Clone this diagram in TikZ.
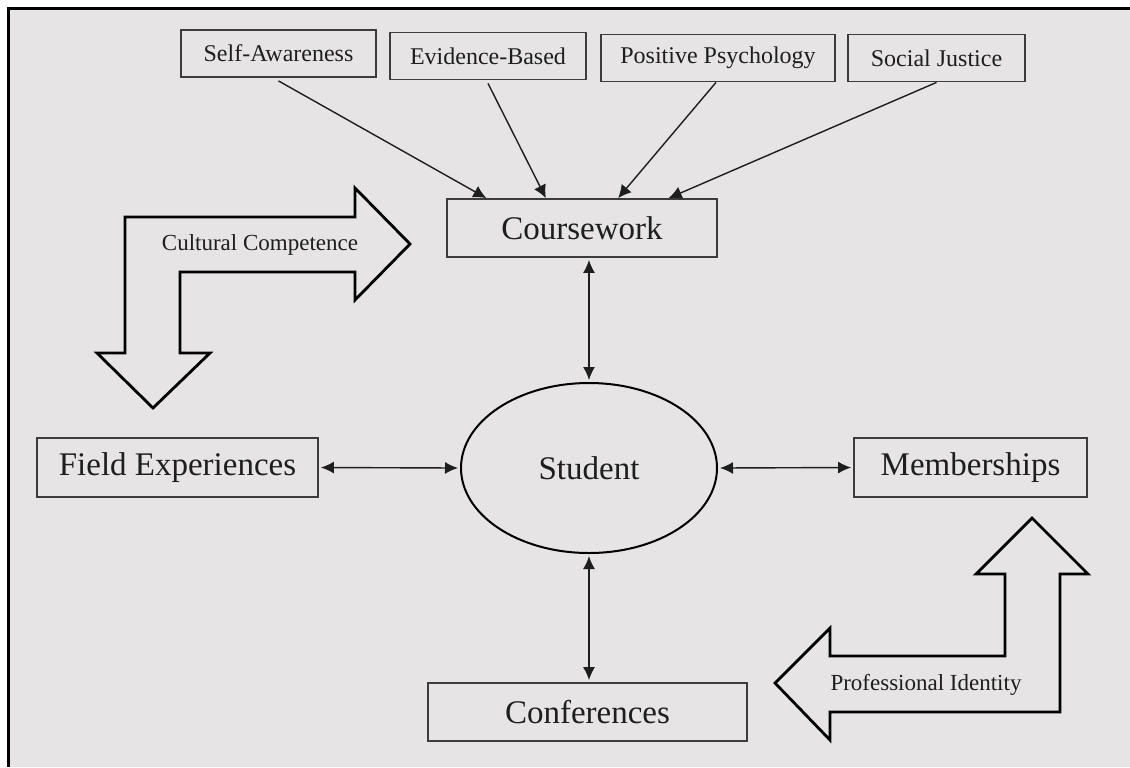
\documentclass[tikz,border=0pt]{standalone}
\usepackage{fontspec}
\setmainfont{Liberation Serif}
\usepackage{xcolor}
\usetikzlibrary{shapes,arrows.meta,positioning,calc}

\definecolor{panel}{RGB}{230,228,229}
\definecolor{boxline}{RGB}{60,60,60}
\definecolor{ink}{RGB}{30,30,30}

\begin{document}
\begin{tikzpicture}[
        x=0.5pt, y=-0.5pt,
        topic/.style={rectangle, draw=boxline, line width=0.9pt, inner sep=0pt, text=ink, font=\fontsize{12}{14}\selectfont, minimum height=23.5pt},
        area/.style={rectangle, draw=boxline, line width=0.9pt, inner sep=0pt, text=ink, font=\fontsize{16.5}{19}\selectfont, minimum height=29.5pt},
        hub/.style={ellipse, draw=black, line width=1pt, inner sep=0pt, text=ink, font=\fontsize{16.5}{19}\selectfont, minimum width=128pt, minimum height=85pt},
        bigarrow/.style={draw=black, line width=1.4pt, line join=miter},
        bigtext/.style={text=ink, font=\fontsize{11.5}{13}\selectfont, inner sep=0pt},
        arrow/.style={-{Latex[length=6.5pt,width=6.5pt]}, draw=ink, line width=0.7pt},
        both/.style={{Latex[length=6.5pt,width=6pt]}-{Latex[length=6.5pt,width=6pt]}, draw=ink, line width=0.7pt}
      ]
        % Frame
        \useasboundingbox (0,0) rectangle (1130,767);
        \fill[white] (0,0) rectangle (1130,767);
        \fill[panel] (8.5,8.5) rectangle (1130,767);
        \draw[black, line width=1.6pt] (8.5,767) -- (8.5,8.5) -- (1130,8.5);

        % Topics
        \node[topic, minimum width=97.5pt] (sa) at (278.5,53.5) {Self-Awareness};
        \node[topic, minimum width=98pt] (eb) at (488,56) {Evidence-Based};
        \node[topic, minimum width=117pt] (pp) at (718,58) {Positive Psychology};
        \node[topic, minimum width=88.5pt] (sj) at (936.5,58) {Social Justice};

        % Main areas
        \node[area, minimum width=135pt, minimum height=29pt] (cw) at (582,228) {Coursework};
        \node[hub] (st) at (589,468) {Student};
        \node[area, minimum width=140.5pt] (fe) at (177.5,467.5) {Field Experiences};
        \node[area, minimum width=116.5pt] (mb) at (970.5,467.5) {Memberships};
        \node[area, minimum width=159.5pt, minimum height=29pt] (cf) at (587.5,712) {Conferences};

        % Bent arrows
        \draw[bigarrow] (125,217) -- (355,217) -- (355,188) -- (410,244) -- (355,300) -- (355,272)
          -- (180,272) -- (180,353) -- (210,353) -- (153,408) -- (97,353) -- (125,353) -- cycle;
        \node[bigtext] (cc) at (260,245) {Cultural Competence};
        \draw[bigarrow] (1032,518) -- (1088,574) -- (1060,574) -- (1060,712) -- (830,712) -- (830,740)
          -- (775,683) -- (830,628) -- (830,656) -- (1005,656) -- (1005,574) -- (976,574) -- cycle;
        \node[bigtext] (pi) at (926,685) {Professional Identity};

        % Arrows
        \draw[arrow] ([yshift=-1.5pt]sa.south) -- ($(cw.north west)!0.148!(cw.north east)$);
        \draw[arrow] ([yshift=-1.5pt]eb.south) -- ($(cw.north west)!0.367!(cw.north east)$);
        \draw[arrow] ([xshift=-1pt]pp.south) -- ($(cw.north west)!0.633!(cw.north east)$);
        \draw[arrow] (sj.south) -- ($(cw.north west)!0.819!(cw.north east)$);
        \draw[both] ([yshift=-1pt]cw.south -| st.north) -- ([yshift=1pt]st.north);
        \draw[both] ([yshift=-1pt]st.south) -- ([yshift=1pt]st.south |- cf.north);
        \draw[both] ([xshift=1pt]fe.east) -- ([xshift=-1pt]st.west);
        \draw[both] ([xshift=1pt]st.east) -- ([xshift=-1pt]mb.west);
      \end{tikzpicture}
\end{document}
